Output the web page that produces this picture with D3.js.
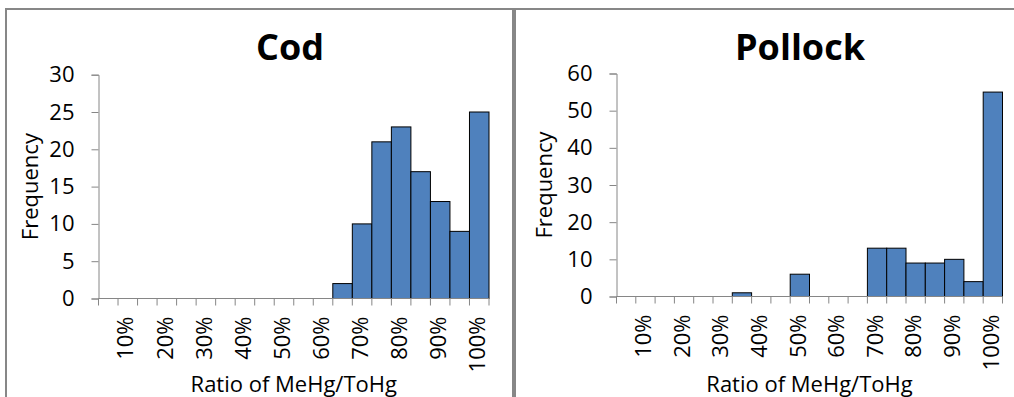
<!DOCTYPE html>
<html><head><meta charset="utf-8">
<script src="https://cdn.jsdelivr.net/npm/d3@7"></script>
<style>body{margin:0;background:#fff}svg{display:block}text{font-family:"Open Sans",sans-serif;fill:#000}</style>
</head><body>
<script>
const bins = ["5%","10%","15%","20%","25%","30%","35%","40%","45%","50%","55%","60%","65%","70%","75%","80%","85%","90%","95%","100%"];
const codValues = [0,0,0,0,0,0,0,0,0,0,0,0,2,10,21,23,17,13,9,25];
const pollockValues = [0,0,0,0,0,0,1,0,0,6,0,0,0,13,13,9,9,10,4,55];
const codTicks = [0,5,10,15,20,25,30];
const pollockTicks = [0,10,20,30,40,50,60];
const shownLabels = ["10%","20%","30%","40%","50%","60%","70%","80%","90%","100%"];

const W = 1014, H = 397;
const svg = d3.select("body").append("svg").attr("width", W).attr("height", H);

// frames
const frameColor = "#878787";
svg.append("line").attr("x1",5).attr("x2",W).attr("y1",9).attr("y2",9).attr("stroke",frameColor).attr("stroke-width",2);
svg.append("line").attr("x1",6).attr("x2",6).attr("y1",8).attr("y2",H).attr("stroke",frameColor).attr("stroke-width",2);
svg.append("line").attr("x1",514).attr("x2",514).attr("y1",8).attr("y2",H).attr("stroke",frameColor).attr("stroke-width",4);

const panels = [
  {title:"Cod", values:codValues, ticks:codTicks, x0:98.5, x1:489, y0:298.5, y1:74.7, titleX:290, freqX:30},
  {title:"Pollock", values:pollockValues, ticks:pollockTicks, x0:616.5, x1:1002.5, y0:296.5, y1:73.5, titleX:800, freqX:544}
];

const fs = 22;
panels.forEach(p => {
  const g = svg.append("g");
  const x = d3.scaleBand().domain(bins).range([p.x0, p.x1]).padding(0);
  const y = d3.scaleLinear().domain([0, d3.max(p.ticks)]).range([p.y0, p.y1]);

  g.append("text").attr("x", p.titleX).attr("y", 60).attr("text-anchor","middle")
    .attr("font-size", 36).attr("font-weight","bold").text(p.title);

  // bars
  g.selectAll("rect.bar").data(bins.map((b,i)=>({b, v:p.values[i]})).filter(d=>d.v>0))
    .join("rect").attr("class","bar")
    .attr("x", d=>x(d.b)).attr("width", x.bandwidth())
    .attr("y", d=>y(d.v)).attr("height", d=>y(0)-y(d.v))
    .attr("fill","#4F81BD").attr("stroke","#000").attr("stroke-width",1);

  // y axis
  const yAxis = g.append("g").attr("transform",`translate(${p.x0},0)`)
    .call(d3.axisLeft(y).tickValues(p.ticks).tickSize(7).tickPadding(17).tickFormat(d3.format("d")));
  yAxis.select(".domain").attr("stroke","#868686");
  yAxis.selectAll(".tick line").attr("stroke","#868686");
  yAxis.selectAll("text").attr("font-size",fs).style("font-family",'"Open Sans",sans-serif').attr("fill","#000");

  // x axis baseline and ticks
  const xAxis = g.append("g").attr("transform",`translate(0,${p.y0})`);
  xAxis.append("line").attr("x1",p.x0).attr("x2",p.x1).attr("stroke","#868686");
  const edges = bins.map(b=>x(b)).concat([p.x1]);
  xAxis.selectAll("line.tk").data(edges).join("line").attr("class","tk")
    .attr("x1",d=>d).attr("x2",d=>d).attr("y1",0).attr("y2",7).attr("stroke","#868686");
  xAxis.selectAll("text.lb").data(shownLabels).join("text").attr("class","lb")
    .attr("transform", d=>`translate(${x(d)+x.bandwidth()/2-2},18) rotate(-90)`)
    .attr("dy","0.35em").attr("text-anchor","end").attr("font-size",fs).text(d=>d);

  g.append("text").attr("x",(p.x0+p.x1)/2).attr("y",392).attr("text-anchor","middle")
    .attr("font-size",fs).text("Ratio of MeHg/ToHg");
  g.append("text").attr("transform",`translate(${p.freqX+8},${(p.y0+p.y1)/2}) rotate(-90)`)
    .attr("text-anchor","middle").attr("font-size",fs).text("Frequency");
});
</script>
</body></html>
